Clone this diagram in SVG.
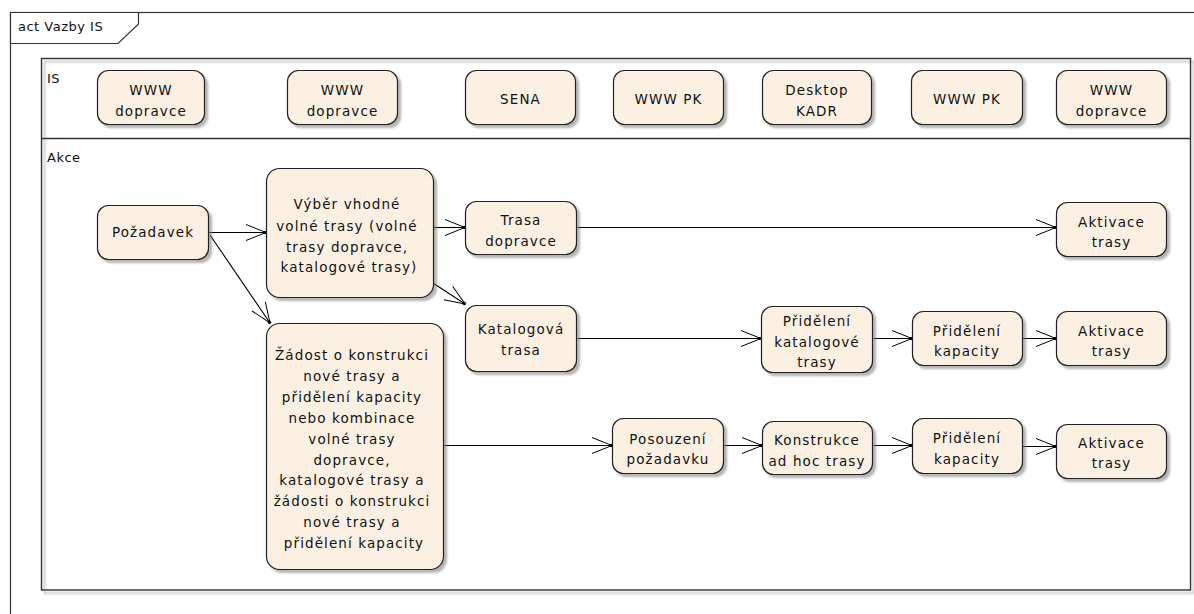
<svg xmlns="http://www.w3.org/2000/svg" width="1194" height="614" viewBox="0 0 1194 614">
<defs>
<filter id="sh" x="-10%" y="-10%" width="130%" height="130%">
<feDropShadow dx="3" dy="3" stdDeviation="1.2" flood-color="#777" flood-opacity="0.55"/>
</filter>
<marker id="arr" markerUnits="userSpaceOnUse" markerWidth="24" markerHeight="20" refX="21" refY="9" orient="auto" overflow="visible">
<path d="M1,1 L21,9 L1,17" fill="none" stroke="#000" stroke-width="1"/>
<rect x="18.5" y="7.5" width="3" height="3" fill="#000"/>
</marker>
<style>
.n{fill:#FBF0E2;stroke:#222;stroke-width:1.2;filter:url(#sh)}
.t{font-family:"DejaVu Sans",Verdana,sans-serif;font-size:13.5px;letter-spacing:1.1px;fill:#111;text-anchor:middle}
.l{font-family:"DejaVu Sans",Verdana,sans-serif;font-size:13px;letter-spacing:0.5px;fill:#111}
.fr{fill:none;stroke:#333;stroke-width:1.2}
.c{fill:none;stroke:#000;stroke-width:1.1;marker-end:url(#arr)}
</style>
</defs>
<rect width="1194" height="614" fill="#fff"/>

<g id="frame">
<rect x="10.5" y="12.5" width="1220" height="640" class="fr"/>
<path d="M10.5,12.5 H138.5 V24 L118,43.5 H10.5 Z" fill="#fff" stroke="#333" stroke-width="1.2"/>
<text x="18" y="31" class="l">act Vazby IS</text>
</g>

<g id="partition">
<rect x="41.5" y="58.5" width="1149" height="531.5" fill="none" stroke="#333" stroke-width="1.4" filter="url(#sh)"/>
<line x1="41.5" y1="138.5" x2="1190.5" y2="138.5" stroke="#333" stroke-width="1.4"/>
<text x="47" y="83" class="l">IS</text>
<text x="47" y="162" class="l">Akce</text>
</g>

<g id="is1"><rect x="97.5" y="70.5" width="107" height="54" rx="11" class="n"/><text class="t"><tspan x="151" y="95">WWW</tspan><tspan x="151" y="116">dopravce</tspan></text></g>
<g id="is2"><rect x="287.5" y="70.5" width="110" height="54" rx="11" class="n"/><text class="t"><tspan x="342.5" y="95">WWW</tspan><tspan x="342.5" y="116">dopravce</tspan></text></g>
<g id="is3"><rect x="465.5" y="70.5" width="110" height="54" rx="11" class="n"/><text class="t" x="520.5" y="104">SENA</text></g>
<g id="is4"><rect x="613.5" y="70.5" width="110" height="54" rx="11" class="n"/><text class="t" x="668.5" y="104">WWW PK</text></g>
<g id="is5"><rect x="762.5" y="70.5" width="109" height="54" rx="11" class="n"/><text class="t"><tspan x="817" y="95">Desktop</tspan><tspan x="817" y="116">KADR</tspan></text></g>
<g id="is6"><rect x="911.5" y="70.5" width="111" height="54" rx="11" class="n"/><text class="t" x="967" y="104">WWW PK</text></g>
<g id="is7"><rect x="1056.5" y="70.5" width="110" height="54" rx="11" class="n"/><text class="t"><tspan x="1111.5" y="95">WWW</tspan><tspan x="1111.5" y="116">dopravce</tspan></text></g>

<g id="connectors">
<path class="c" d="M208,232.5 H266"/>
<path class="c" d="M210,235 L270,323"/>
<path class="c" d="M433,227.5 H465"/>
<path class="c" d="M433,283 L465,304"/>
<path class="c" d="M576,227.5 H1056"/>
<path class="c" d="M576,338.5 H761"/>
<path class="c" d="M872,338.5 H912"/>
<path class="c" d="M1022,338.5 H1056"/>
<path class="c" d="M443,445.5 H612"/>
<path class="c" d="M723,445.5 H762"/>
<path class="c" d="M872,445.5 H912"/>
<path class="c" d="M1022,446.5 H1056"/>
</g>

<g id="pozadavek"><rect x="97.5" y="205.5" width="111" height="54" rx="11" class="n"/><text class="t" x="153" y="237">Požadavek</text></g>
<g id="vyber"><rect x="266.5" y="168.5" width="167" height="129" rx="13" class="n"/><text class="t"><tspan x="347" y="209">Výběr vhodné</tspan><tspan x="347" y="231">volné trasy (volné</tspan><tspan x="347" y="252">trasy dopravce,</tspan><tspan x="349" y="272">katalogové trasy)</tspan></text></g>
<g id="zadost"><rect x="266.5" y="323.5" width="177" height="246" rx="13" class="n"/><text class="t"><tspan x="352" y="360">Žádost o konstrukci</tspan><tspan x="352" y="381">nové trasy a</tspan><tspan x="352" y="402">přidělení kapacity</tspan><tspan x="352" y="423">nebo kombinace</tspan><tspan x="352" y="444">volné trasy</tspan><tspan x="352" y="465">dopravce,</tspan><tspan x="352" y="485">katalogové trasy a</tspan><tspan x="352" y="506">žádosti o konstrukci</tspan><tspan x="352" y="527">nové trasy a</tspan><tspan x="354" y="548">přidělení kapacity</tspan></text></g>
<g id="trasa-dopravce"><rect x="465.5" y="201.5" width="111" height="53" rx="11" class="n"/><text class="t"><tspan x="521" y="225">Trasa</tspan><tspan x="521" y="246">dopravce</tspan></text></g>
<g id="katalogova-trasa"><rect x="465.5" y="305.5" width="111" height="66" rx="11" class="n"/><text class="t"><tspan x="521" y="334">Katalogová</tspan><tspan x="521" y="355">trasa</tspan></text></g>
<g id="prideleni-kat"><rect x="761.5" y="306.5" width="111" height="66" rx="11" class="n"/><text class="t"><tspan x="817" y="326">Přidělení</tspan><tspan x="817" y="347">katalogové</tspan><tspan x="817" y="367">trasy</tspan></text></g>
<g id="aktivace1"><rect x="1056.5" y="202.5" width="110" height="54" rx="11" class="n"/><text class="t"><tspan x="1111.5" y="227">Aktivace</tspan><tspan x="1111.5" y="247">trasy</tspan></text></g>
<g id="prideleni-kap1"><rect x="912.5" y="311.5" width="110" height="54" rx="11" class="n"/><text class="t"><tspan x="967" y="336">Přidělení</tspan><tspan x="967" y="356">kapacity</tspan></text></g>
<g id="aktivace2"><rect x="1056.5" y="311.5" width="110" height="54" rx="11" class="n"/><text class="t"><tspan x="1111.5" y="336">Aktivace</tspan><tspan x="1111.5" y="356">trasy</tspan></text></g>
<g id="posouzeni"><rect x="612.5" y="418.5" width="111" height="55" rx="11" class="n"/><text class="t"><tspan x="668" y="444">Posouzení</tspan><tspan x="668" y="464">požadavku</tspan></text></g>
<g id="konstrukce"><rect x="762.5" y="421.5" width="110" height="53" rx="11" class="n"/><text class="t"><tspan x="817" y="445">Konstrukce</tspan><tspan x="817" y="466">ad hoc trasy</tspan></text></g>
<g id="prideleni-kap2"><rect x="912.5" y="418.5" width="110" height="55" rx="11" class="n"/><text class="t"><tspan x="967" y="443">Přidělení</tspan><tspan x="967" y="464">kapacity</tspan></text></g>
<g id="aktivace3"><rect x="1056.5" y="424.5" width="110" height="54" rx="11" class="n"/><text class="t"><tspan x="1111.5" y="448">Aktivace</tspan><tspan x="1111.5" y="468">trasy</tspan></text></g>
</svg>
